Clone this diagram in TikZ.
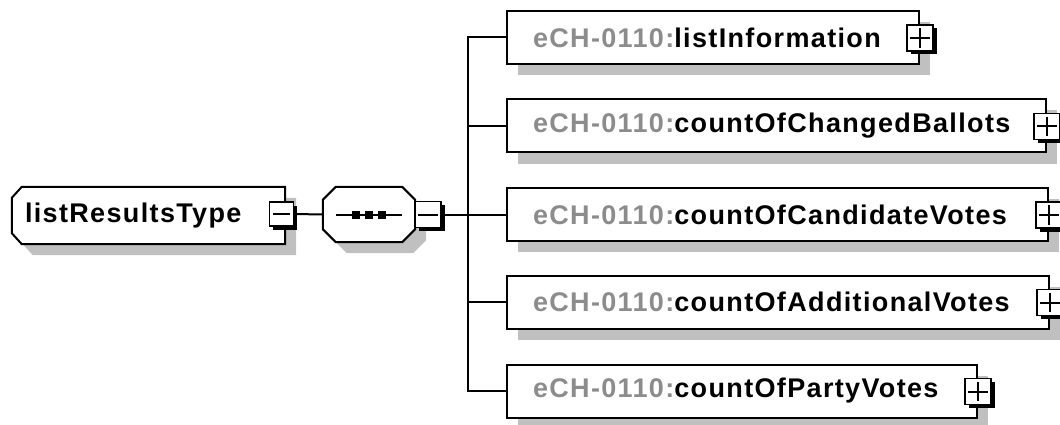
\documentclass[tikz,border=0pt]{standalone}
\usepackage{fontspec}
\setmainfont{Liberation Sans}
\newfontfamily\diagfont[LetterSpace=5]{Liberation Sans}
\usetikzlibrary{shadows,backgrounds}
\definecolor{prefixgray}{HTML}{8C8C8C}
\definecolor{shadowgray}{HTML}{C0C0C0}
\newcommand{\ename}[1]{\mbox{\textcolor{prefixgray}{eCH-0110:}#1}}
% outlines of the root type and of the sequence
\newcommand{\rootpath}{([xshift=10pt]lrt.north west) -- (lrt.north east) -- (lrt.south east)
  -- ([xshift=10pt]lrt.south west) -- ([yshift=11pt]lrt.south west)
  -- ([yshift=-11pt]lrt.north west) -- cycle}
\newcommand{\seqpath}{([xshift=13pt]seq.north west) -- ([xshift=-13pt]seq.north east)
  -- ([yshift=-13pt]seq.north east) -- ([yshift=13pt]seq.south east)
  -- ([xshift=-13pt]seq.south east) -- ([xshift=13pt]seq.south west)
  -- ([yshift=13pt]seq.south west) -- ([yshift=-13pt]seq.north west) -- cycle}
\tikzset{
  conn/.style={line width=2pt},
  sign/.style={line width=2pt},
  boxshadow/.style={drop shadow={shadow xshift=11pt, shadow yshift=-11pt, fill=shadowgray, opacity=1}},
  textfont/.style={font=\diagfont\fontsize{27pt}{31pt}\selectfont\bfseries},
  elem/.style={draw, line width=2pt, fill=white, rectangle, minimum height=53pt,
    inner xsep=26pt, inner ysep=0pt, align=left, anchor=west, boxshadow, textfont},
  rootelem/.style={rectangle, minimum width=273pt, minimum height=57pt,
    inner xsep=0pt, inner ysep=0pt, align=left, textfont},
  seqbox/.style={rectangle, minimum width=92pt, minimum height=55pt, inner sep=0pt},
  toggle/.style={draw, line width=1.5pt, fill=white, rectangle, minimum width=#1, minimum height=#1,
    inner sep=0pt, drop shadow={shadow xshift=3.5pt, shadow yshift=-3.5pt, fill=black, opacity=1}},
}
\begin{document}
\begin{tikzpicture}[x=1pt,y=-1pt]
  \useasboundingbox (0,0) rectangle (1060,425);

  % root type and its sequence
  \node[rootelem, text width=247pt] (lrt) at (148.5,215.5) {listResultsType};
  \node[seqbox] (seq) at (369,214.5) {};
  \begin{scope}[on background layer]
    \fill[shadowgray, transform canvas={shift={(11pt,-11pt)}}] \rootpath;
    \filldraw[fill=white, line width=2pt] \rootpath;
    \fill[shadowgray, transform canvas={shift={(11pt,-11pt)}}] \seqpath;
    \filldraw[fill=white, line width=2pt] \seqpath;
  \end{scope}
  \draw[conn] ([xshift=-33pt]seq.center) -- ([xshift=33pt]seq.center);
  \foreach \dx in {-13,0,13}
    \fill ([xshift=\dx pt]seq.center) +(-4pt,-4pt) rectangle +(4pt,4pt);

  \node[toggle=24pt] (lrtminus) at (281.5,214) {};
  \node[toggle=26pt] (seqminus) at (428,214.5) {};
  \foreach \m in {lrtminus,seqminus}
    \draw[sign] ([xshift=4pt]\m.west) -- ([xshift=-4pt]\m.east);

  % children
  \node[elem, text width=360pt] (info) at (506,37.5) {\ename{listInformation}};
  \node[elem, text width=487pt] (ballots) at (506,126) {\ename{countOfChangedBallots}};
  \node[elem, text width=489pt] (cand) at (506,214.5) {\ename{countOfCandidateVotes}};
  \node[elem, text width=490pt] (addl) at (506,302) {\ename{countOfAdditionalVotes}};
  \node[elem, text width=418pt] (party) at (506,391) {\ename{countOfPartyVotes}};

  \foreach \c in {info,ballots,cand,addl,party} {
    \node[toggle=26pt] (\c plus) at ([yshift=-0.5pt]\c.east) {};
    \draw[sign] ([xshift=4pt]\c plus.west) -- ([xshift=-4pt]\c plus.east);
    \draw[sign] ([yshift=-4pt]\c plus.north) -- ([yshift=4pt]\c plus.south);
  }

  % connectors
  \coordinate (trunk) at (468,214.5);
  \draw[conn] (lrtminus.east) -- (seq.west);
  \draw[conn] (seqminus.east) -- (cand.west);
  \draw[conn] (info.west) -| (trunk) |- (party.west);
  \draw[conn] (ballots.west) -- (ballots.west -| trunk);
  \draw[conn] (addl.west) -- (addl.west -| trunk);
\end{tikzpicture}
\end{document}
